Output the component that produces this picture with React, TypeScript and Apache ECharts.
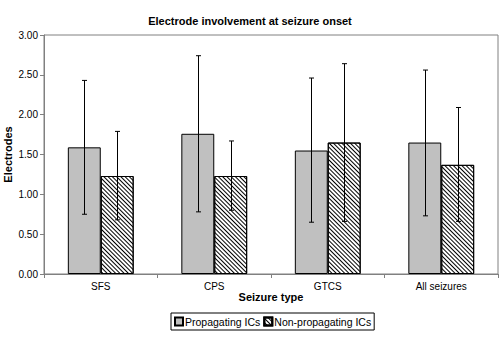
import React, { useEffect, useRef } from "react";
import * as echarts from "echarts";

const categories = ["SFS", "CPS", "GTCS", "All seizures"];
const seriesNames = ["Propagating ICs", "Non-propagating ICs"];
const propMean = [1.59, 1.76, 1.55, 1.65];
const propLow = [0.75, 0.78, 0.65, 0.73];
const propHigh = [2.43, 2.74, 2.46, 2.56];
const nonMean = [1.23, 1.23, 1.65, 1.37];
const nonLow = [0.68, 0.8, 0.66, 0.66];
const nonHigh = [1.79, 1.67, 2.64, 2.09];

const CAT_GAP = 0.42;

function errorSeries(name: string, low: number[], high: number[], side: number) {
  return {
    type: "custom",
    name: name + " err",
    silent: true,
    z: 5,
    data: categories.map((_, i) => [i, low[i], high[i]]),
    encode: { x: 0, y: [1, 2] },
    renderItem: (params: any, api: any) => {
      const i = api.value(0);
      const lo = api.coord([i, api.value(1)]);
      const hi = api.coord([i, api.value(2)]);
      const band = api.size([1, 0])[0];
      const bw = (band * (1 - CAT_GAP)) / 2;
      const x = Math.round(lo[0] + side * bw / 2) + 0.5;
      const cap = 2.5;
      const style = { stroke: "#000", lineWidth: 1 };
      return {
        type: "group",
        children: [
          { type: "line", shape: { x1: x, y1: hi[1], x2: x, y2: lo[1] }, style },
          { type: "line", shape: { x1: x - cap, y1: hi[1], x2: x + cap, y2: hi[1] }, style },
          { type: "line", shape: { x1: x - cap, y1: lo[1], x2: x + cap, y2: lo[1] }, style },
        ],
      };
    },
  };
}

export default function App() {
  const ref = useRef<HTMLDivElement>(null);
  useEffect(() => {
    if (!ref.current) return;
    const chart = echarts.init(ref.current, null, { renderer: "svg" });
    const hatch = {
      symbol: "rect",
      symbolSize: 1,
      dashArrayX: [1, 0],
      dashArrayY: [0.8, 1.6],
      rotation: Math.PI / 4,
      color: "#000",
      backgroundColor: "#fff",
    };
    chart.setOption({
      animation: false,
      backgroundColor: "#fff",
      textStyle: { fontFamily: "Liberation Sans, Arial, sans-serif" },
      title: {
        text: "Electrode involvement at seizure onset",
        left: "center",
        top: 10,
        textStyle: { fontSize: 11, fontWeight: "bold", color: "#000", fontFamily: "Liberation Sans, Arial, sans-serif" },
      },
      grid: {
        left: 44,
        right: 2,
        top: 35,
        bottom: 63,
        containLabel: false,
        outerBoundsMode: "none",
        show: true,
        borderColor: "#808080",
        borderWidth: 1,
      },
      legend: {
        data: seriesNames,
        left: 171,
        top: 313,
        orient: "horizontal",
        icon: "rect",
        padding: [3, 3],
        itemWidth: 8,
        itemHeight: 8,
        itemGap: 3,
        borderColor: "#000",
        borderWidth: 1,
        textStyle: { fontSize: 10.5, color: "#000", padding: [0, 0, 0, -3] },
      },
      xAxis: {
        type: "category",
        data: categories,
        name: "Seizure type",
        nameLocation: "middle",
        nameGap: 17,
        nameMoveOverlap: false,
        nameTextStyle: { fontSize: 11, fontWeight: "bold", color: "#000" },
        axisLine: { lineStyle: { color: "#808080" } },
        axisTick: { show: true, length: 4, lineStyle: { color: "#808080" } },
        axisLabel: { fontSize: 10, color: "#000", margin: 7 },
      },
      yAxis: {
        type: "value",
        min: 0,
        max: 3,
        interval: 0.5,
        name: "Electrodes",
        nameLocation: "middle",
        nameGap: 31,
        nameMoveOverlap: false,
        nameRotate: 90,
        nameTextStyle: { fontSize: 11, fontWeight: "bold", color: "#000" },
        axisLine: { show: true, lineStyle: { color: "#808080" } },
        axisTick: { show: true, length: 4, lineStyle: { color: "#808080" } },
        splitLine: { show: false },
        axisLabel: { fontSize: 10, color: "#000", margin: 6, formatter: (v: number) => v.toFixed(2) },
      },
      series: [
        {
          type: "bar",
          name: seriesNames[0],
          data: propMean,
          barGap: "0%",
          barCategoryGap: CAT_GAP * 100 + "%",
          itemStyle: { color: "#c0c0c0", borderColor: "#000", borderWidth: 1 },
        },
        {
          type: "bar",
          name: seriesNames[1],
          data: nonMean,
          barGap: "0%",
          barCategoryGap: CAT_GAP * 100 + "%",
          itemStyle: { color: "#fff", borderColor: "#000", borderWidth: 1, decal: hatch },
        },
        errorSeries("p", propLow, propHigh, -1),
        errorSeries("n", nonLow, nonHigh, 1),
      ],
    });
    return () => chart.dispose();
  }, []);
  return <div ref={ref} style={{ width: 500, height: 337, position: "absolute", left: 0, top: 0 }} />;
}
